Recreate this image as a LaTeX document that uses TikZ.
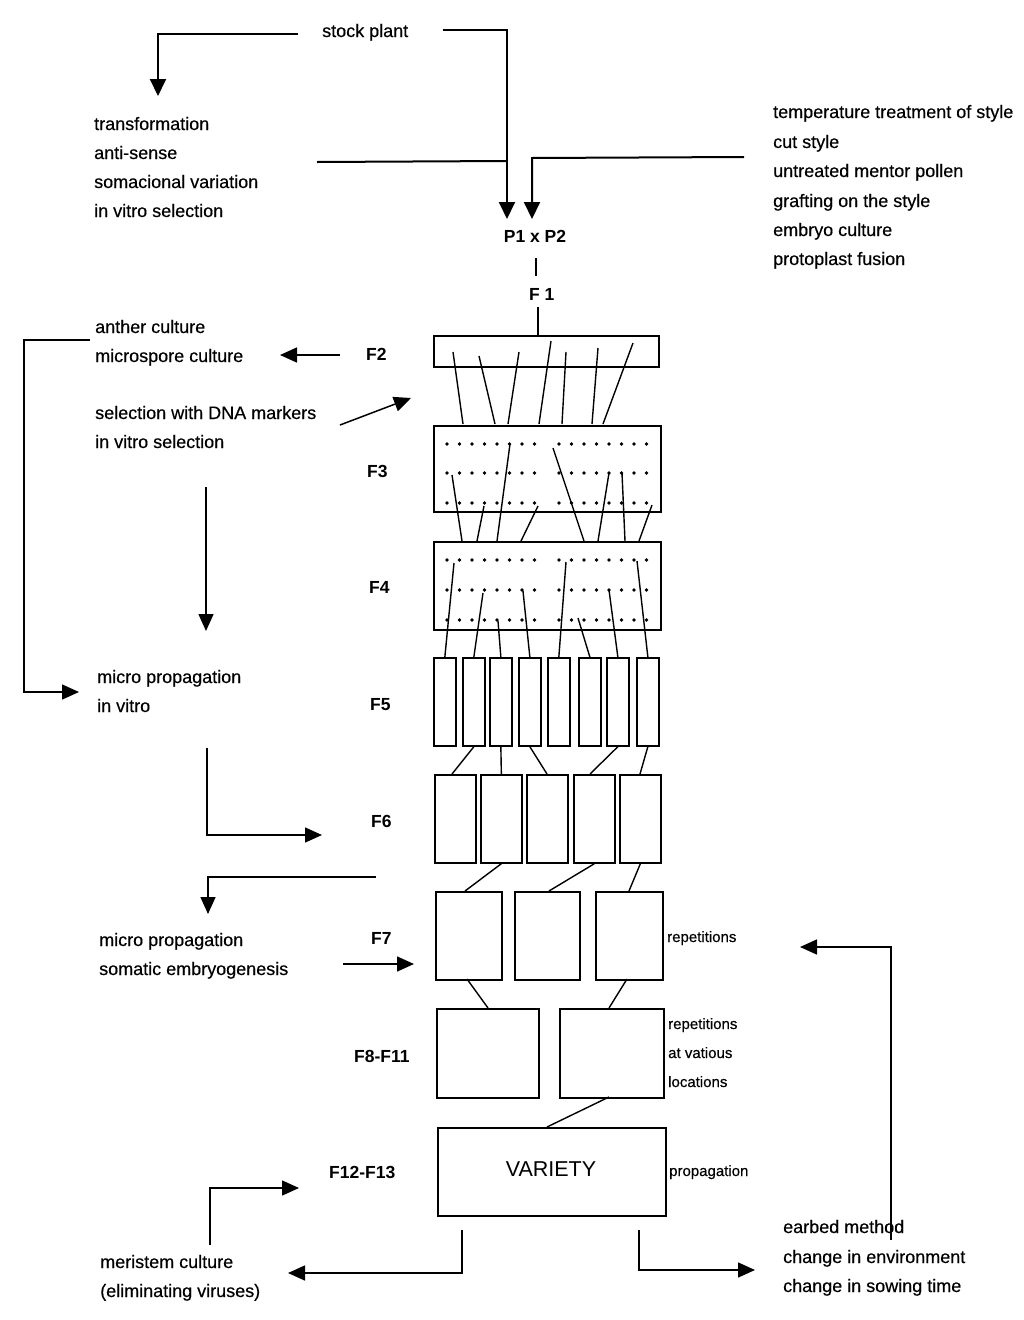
\documentclass[tikz,border=0pt]{standalone}
\usepackage{fontspec}
\setmainfont{Liberation Sans}
\newfontfamily\heavyfont{Liberation Sans}[FakeBold=0.4]
\usetikzlibrary{arrows.meta}
\begin{document}
\begin{tikzpicture}[x=1pt,y=-1pt,
 txt/.style={anchor=base west,inner sep=0pt,font=\heavyfont\fontsize{18}{20}\selectfont},
 flab/.style={anchor=base west,inner sep=0pt,font=\fontsize{17.5}{20}\selectfont\bfseries},
 small/.style={anchor=base west,inner sep=0pt,font=\heavyfont\fontsize{15}{18}\selectfont},
 box/.style={draw,line width=2.1pt,inner sep=0pt,anchor=north west},
 sbox/.style={box,line width=1.7pt},
 link/.style={line width=1.4pt},
 arr/.style={line width=2pt,-{Triangle[length=17pt,width=16pt]}},
 tarr/.style={line width=1.5pt,-{Triangle[length=17pt,width=15pt]}},
 plain/.style={line width=2pt}
]
\useasboundingbox (0,0) rectangle (1024,1320);

% ---------- texts ----------
\node[txt] (sp) at (322,37) {stock plant};
\node[txt] (l1) at (94,130) {transformation};
\node[txt] (l2) at (94,159) {anti-sense};
\node[txt] (l3) at (94,188) {somacional variation};
\node[txt] (l4) at (94,217) {in vitro selection};

\node[txt] (r1) at (773,118) {temperature treatment of style};
\node[txt] (r2) at (773,148) {cut style};
\node[txt] (r3) at (773,177) {untreated mentor pollen};
\node[txt] (r4) at (773,207) {grafting on the style};
\node[txt] (r5) at (773,236) {embryo culture};
\node[txt] (r6) at (773,265) {protoplast fusion};

\node[flab,anchor=base] (p12) at (535,242) {P1 x P2};
\node[flab] (f1) at (529,300) {F 1};

\node[txt] (ac) at (95,333) {anther culture};
\node[txt] (mc) at (95,362) {microspore culture};
\node[txt] (sd) at (95,419) {selection with DNA markers};
\node[txt] (iv) at (95,448) {in vitro selection};

\node[txt] (mp1) at (97,683) {micro propagation};
\node[txt] (mp2) at (97,712) {in vitro};
\node[txt] (mp3) at (99,946) {micro propagation};
\node[txt] (mp4) at (99,975) {somatic embryogenesis};
\node[txt] (me1) at (100,1268) {meristem culture};
\node[txt] (me2) at (100,1297) {(eliminating viruses)};

\node[txt] (eb1) at (783,1233) {earbed method};
\node[txt] (eb2) at (783,1263) {change in environment};
\node[txt] (eb3) at (783,1292) {change in sowing time};

\node[flab] (lf2) at (366,360) {F2};
\node[flab] (lf3) at (367,477) {F3};
\node[flab] (lf4) at (369,593) {F4};
\node[flab] (lf5) at (370,710) {F5};
\node[flab] (lf6) at (371,827) {F6};
\node[flab] (lf7) at (371,944) {F7};
\node[flab] (lf8) at (354,1062) {F8-F11};
\node[flab] (lf12) at (329,1178) {F12-F13};

\node[small] (rp1) at (667,942) {repetitions};
\node[small] (rp2) at (668,1029) {repetitions};
\node[small] (rp3) at (668,1058) {at vatious};
\node[small] (rp4) at (668,1087) {locations};
\node[small] (pr) at (669,1176) {propagation};

% ---------- boxes ----------
\node[box,minimum width=225pt,minimum height=31pt] (b2) at (433,335) {};
\node[box,minimum width=227pt,minimum height=86pt] (b3) at (433,425) {};
\node[box,minimum width=227pt,minimum height=88pt] (b4) at (433,541) {};
\foreach \x [count=\k] in {433,462,489,518,547,578,606,636}
  \node[sbox,minimum width=22pt,minimum height=88pt] (b5\k) at (\x,657) {};
\foreach \x [count=\k] in {434,480,526,573,619}
  \node[sbox,minimum width=41pt,minimum height=88pt] (b6\k) at (\x,774) {};
\node[sbox,minimum width=66pt,minimum height=88pt] (b71) at (435,891) {};
\node[sbox,minimum width=65pt,minimum height=88pt] (b72) at (514,891) {};
\node[sbox,minimum width=67pt,minimum height=88pt] (b73) at (595,891) {};
\node[sbox,minimum width=102pt,minimum height=89pt] (b81) at (436,1008) {};
\node[sbox,minimum width=104pt,minimum height=89pt] (b82) at (559,1008) {};
\node[sbox,minimum width=228pt,minimum height=88pt] (bv) at (437,1127) {};
\node[anchor=base,inner sep=0pt,font=\fontsize{21.5}{24}\selectfont] (var) at (551,1176) {VARIETY};

% ---------- dots ----------
\foreach \r in {444,473,503,560,590,620}
  \foreach \i in {0,...,7} {
    \fill ({447+12.5*\i},\r) circle (1.8pt);
    \fill ({559+12.5*\i},\r) circle (1.8pt);
  }

% ---------- lines F2 -> F3 ----------
\draw[link] (453,352) -- (463,424);
\draw[link] (479,356) -- (495,424);
\draw[link] (519,352) -- (508,424);
\draw[link] (551,341) -- (539,424);
\draw[link] (566,352) -- (562,424);
\draw[link] (598,348) -- (592,424);
\draw[link] (633,343) -- (603,424);
% F3 -> F4
\draw[link] (452,475) -- (462,541);
\draw[link] (484,506) -- (477,541);
\draw[link] (510,444) -- (497,541);
\draw[link] (538,506) -- (521,541);
\draw[link] (553,448) -- (584,541);
\draw[link] (609,473) -- (598,541);
\draw[link] (622,473) -- (625,541);
\draw[link] (652,505) -- (639,541);
% F4 -> F5
\draw[link] (454,563) -- (b51.north);
\draw[link] (483,593) -- (b52.north);
\draw[link] (498,621) -- (b53.north);
\draw[link] (523,591) -- (b54.north);
\draw[link] (566,562) -- (b55.north);
\draw[link] (578,618) -- (b56.north);
\draw[link] (609,590) -- (b57.north);
\draw[link] (637,561) -- (b58.north);
% F5 -> F6
\draw[link] (b52.south) -- (452,774);
\draw[link] (b53.south) -- (b62.north);
\draw[link] (b54.south) -- (547,774);
\draw[link] (b57.south) -- (590,774);
\draw[link] (b58.south) -- (640,774);
% F6 -> F7
\draw[link] (b62.south) -- (465,891);
\draw[link] (b64.south) -- (549,891);
\draw[link] (b65.south) -- (629,891);
% F7 -> F8
\draw[link] (467,979) -- (488,1008);
\draw[link] (627,979) -- (609,1008);
% F8 -> variety
\draw[link] (609,1097) -- (547,1127);

% ---------- top connectors ----------
\coordinate (a1s) at (298,34);
\coordinate (a1c) at (158,34);
\coordinate (a1e) at (158,96);
\draw[arr] (a1s) -- (a1c) -- (a1e);
\coordinate (a2s) at (443,30);
\coordinate (a2c) at (507,30);
\coordinate (a2e) at (507,219);
\draw[arr] (a2s) -- (a2c) -- (a2e);
\coordinate (a3s) at (317,162);
\coordinate (a3e) at (507,161);
\draw[plain] (a3s) -- (a3e);
\coordinate (a4s) at (744,157);
\coordinate (a4c) at (532,158);
\coordinate (a4e) at (532,219);
\draw[arr] (a4s) -- (a4c) -- (a4e);
\draw[link] (536,258) -- (536,276);
\draw[link] (538,307) -- (b2.north -| 538,0);

% ---------- side connectors ----------
\coordinate (a5s) at (340,355);
\coordinate (a5e) at (280,355);
\draw[tarr] (a5s) -- (a5e);
\coordinate (a6s) at (90,340);
\coordinate (a6c1) at (24,340);
\coordinate (a6c2) at (24,692);
\coordinate (a6e) at (79,692);
\draw[tarr] (a6s) -- (a6c1) -- (a6c2) -- (a6e);
\coordinate (a7s) at (340,425);
\coordinate (a7e) at (411,398);
\draw[tarr] (a7s) -- (a7e);
\coordinate (a8s) at (206,487);
\coordinate (a8e) at (206,631);
\draw[tarr] (a8s) -- (a8e);
\coordinate (a9s) at (207,748);
\coordinate (a9c) at (207,835);
\coordinate (a9e) at (322,835);
\draw[tarr] (a9s) -- (a9c) -- (a9e);
\coordinate (a10s) at (376,877);
\coordinate (a10c) at (208,877);
\coordinate (a10e) at (208,914);
\draw[tarr] (a10s) -- (a10c) -- (a10e);
\coordinate (a11s) at (343,964);
\coordinate (a11e) at (414,964);
\draw[tarr] (a11s) -- (a11e);
\coordinate (a12s) at (210,1245);
\coordinate (a12c) at (210,1188);
\coordinate (a12e) at (299,1188);
\draw[tarr] (a12s) -- (a12c) -- (a12e);
\coordinate (a13s) at (462,1230);
\coordinate (a13c) at (462,1273);
\coordinate (a13e) at (288,1273);
\draw[tarr] (a13s) -- (a13c) -- (a13e);
\coordinate (a14s) at (639,1230);
\coordinate (a14c) at (639,1270);
\coordinate (a14e) at (755,1270);
\draw[tarr] (a14s) -- (a14c) -- (a14e);
\coordinate (a15s) at (891,1240);
\coordinate (a15c) at (891,947);
\coordinate (a15e) at (800,947);
\draw[tarr] (a15s) -- (a15c) -- (a15e);
\end{tikzpicture}
\end{document}
